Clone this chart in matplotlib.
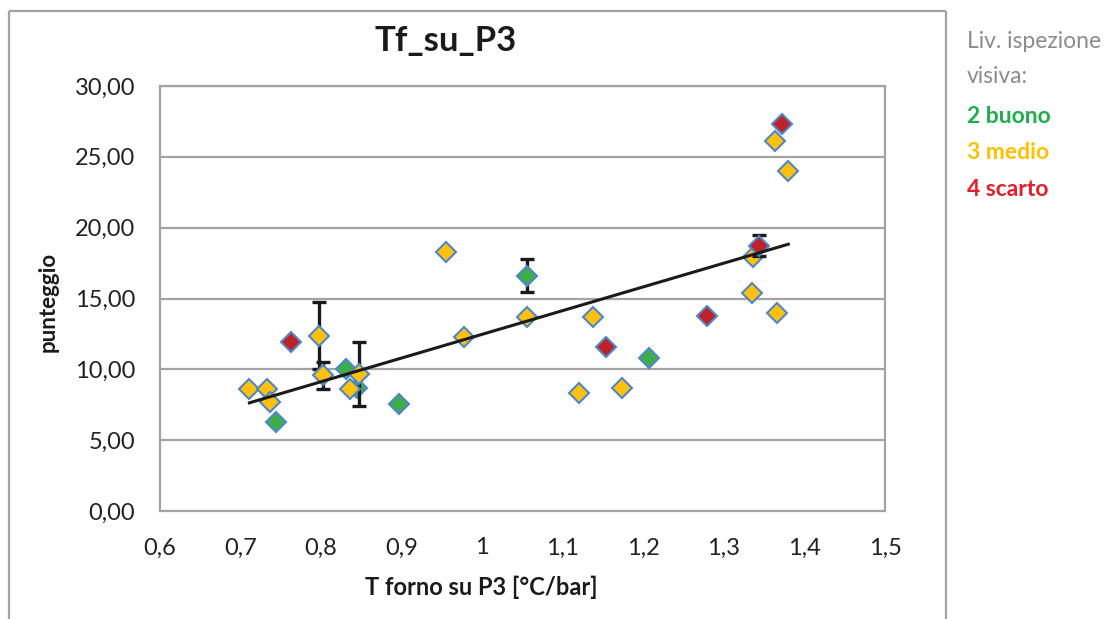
import numpy as np
import matplotlib
matplotlib.use("Agg")
import matplotlib.pyplot as plt
from matplotlib.lines import Line2D
from matplotlib.ticker import FuncFormatter

plt.rcParams['font.family'] = ['Lato', 'DejaVu Sans']

title = "Tf_su_P3"
x_label = "T forno su P3 [°C/bar]"
y_label = "punteggio"

# Level 2 - buono
buono_x = [0.744, 0.831, 0.844, 0.897, 1.055, 1.207]
buono_y = [6.30, 10.05, 8.70, 7.57, 16.60, 10.83]
buono_err = [0, 0, 0, 0, 1.17, 0]

# Level 3 - medio
medio_x = [0.711, 0.733, 0.737, 0.797, 0.802, 0.847, 0.836, 0.955, 0.977,
           1.055, 1.120, 1.137, 1.173, 1.335, 1.366, 1.336, 1.380, 1.363]
medio_y = [8.60, 8.60, 7.70, 12.38, 9.59, 9.67, 8.63, 18.26, 12.30,
           13.66, 8.35, 13.66, 8.70, 15.40, 14.00, 17.95, 24.00, 26.10]
medio_err = [0, 0, 0, 2.38, 0.96, 2.24, 0, 0, 0,
             0, 0, 0, 0, 0, 0, 0, 0, 0]

# Level 4 - scarto
scarto_x = [0.763, 1.154, 1.279, 1.344, 1.372]
scarto_y = [11.96, 11.60, 13.75, 18.72, 27.35]
scarto_err = [0, 0, 0, 0.74, 0]

x_ticks = [0.6, 0.7, 0.8, 0.9, 1.0, 1.1, 1.2, 1.3, 1.4, 1.5]
x_tick_labels = ["0,6", "0,7", "0,8", "0,9", "1", "1,1", "1,2", "1,3", "1,4", "1,5"]
y_ticks = [0, 5, 10, 15, 20, 25, 30]

legend_title = ["Liv. ispezione", "visiva:"]
legend_items = ["2 buono", "3 medio", "4 scarto"]

GRAY = "#a3a3a3"
EDGE = "#4f86c6"
series = [
    (buono_x, buono_y, buono_err, "#3cae48", "#1fae4b"),
    (medio_x, medio_y, medio_err, "#ffc10e", "#ffc000"),
    (scarto_x, scarto_y, scarto_err, "#c0202a", "#e3202a"),
]

W, H = 1119, 619
fig = plt.figure(figsize=(W / 100, H / 100), dpi=100)
fig.patch.set_facecolor("white")

# outer chart frame (open at the bottom)
frame_kw = dict(color=GRAY, lw=1.6, transform=fig.transFigure, solid_capstyle="butt")
fig.add_artist(Line2D([9 / W, 9 / W], [0, 1 - 11 / H], **frame_kw))
fig.add_artist(Line2D([9 / W, 946 / W], [1 - 11 / H, 1 - 11 / H], **frame_kw))
fig.add_artist(Line2D([946 / W, 946 / W], [0, 1 - 11 / H], **frame_kw))

ax = fig.add_axes([160 / W, 1 - 511 / H, 725 / W, 425 / H])
ax.set_xlim(0.6, 1.5)
ax.set_ylim(0, 30)
ax.set_xticks(x_ticks)
ax.set_xticklabels(x_tick_labels)
ax.set_yticks(y_ticks)
ax.yaxis.set_major_formatter(FuncFormatter(lambda v, p: f"{v:.2f}".replace(".", ",")))
ax.tick_params(length=0, labelsize=17, colors="#222222")
ax.tick_params(axis="y", pad=18)
ax.tick_params(axis="x", pad=19)
ax.yaxis.grid(True, color=GRAY, lw=1.6)
ax.set_axisbelow(True)
for sp in ax.spines.values():
    sp.set_color(GRAY)
    sp.set_linewidth(1.6)

z = 3
for xs, ys, errs, fill, _ in series:
    xs = np.asarray(xs); ys = np.asarray(ys); errs = np.asarray(errs)
    m = errs > 0
    if m.any():
        ax.errorbar(xs[m], ys[m], yerr=errs[m], fmt="none", ecolor="#1a1a1a",
                    elinewidth=2.4, capsize=4.8, capthick=2.4, zorder=z)
    ax.plot(xs, ys, linestyle="none", marker="D", markersize=10.5,
            markerfacecolor=fill, markeredgecolor=EDGE, markeredgewidth=1.5,
            zorder=z + 0.5)
    z += 1

# linear trend over all observations
all_x = np.concatenate([buono_x, medio_x, scarto_x])
all_y = np.concatenate([buono_y, medio_y, scarto_y])
slope, intercept = np.polyfit(all_x, all_y, 1)
tx = np.array([all_x.min(), all_x.max()])
ax.plot(tx, slope * tx + intercept, color="#1a1a1a", lw=2.2, zorder=10)

fig.text(446 / W, 1 - 51 / H, title, ha="center", va="baseline",
         fontsize=25, fontweight="bold", color="#1a1a1a")
fig.text(481 / W, 1 - 587 / H, x_label, ha="center", va="center",
         fontsize=17, fontweight="bold", color="#1a1a1a")
fig.text(48 / W, 1 - 302 / H, y_label, ha="center", va="center", rotation=90,
         fontsize=16, fontweight="bold", color="#1a1a1a")

for txt, yb in zip(legend_title, [48, 83]):
    fig.text(967 / W, 1 - yb / H, txt, ha="left", va="baseline",
             fontsize=16.5, color="#8c8c8c")
for txt, yb, (_, _, _, _, col) in zip(legend_items, [123, 159, 196], series):
    fig.text(967 / W, 1 - yb / H, txt, ha="left", va="baseline",
             fontsize=16.5, fontweight="bold", color=col)

fig.savefig("out.png", dpi=100, facecolor="white")
